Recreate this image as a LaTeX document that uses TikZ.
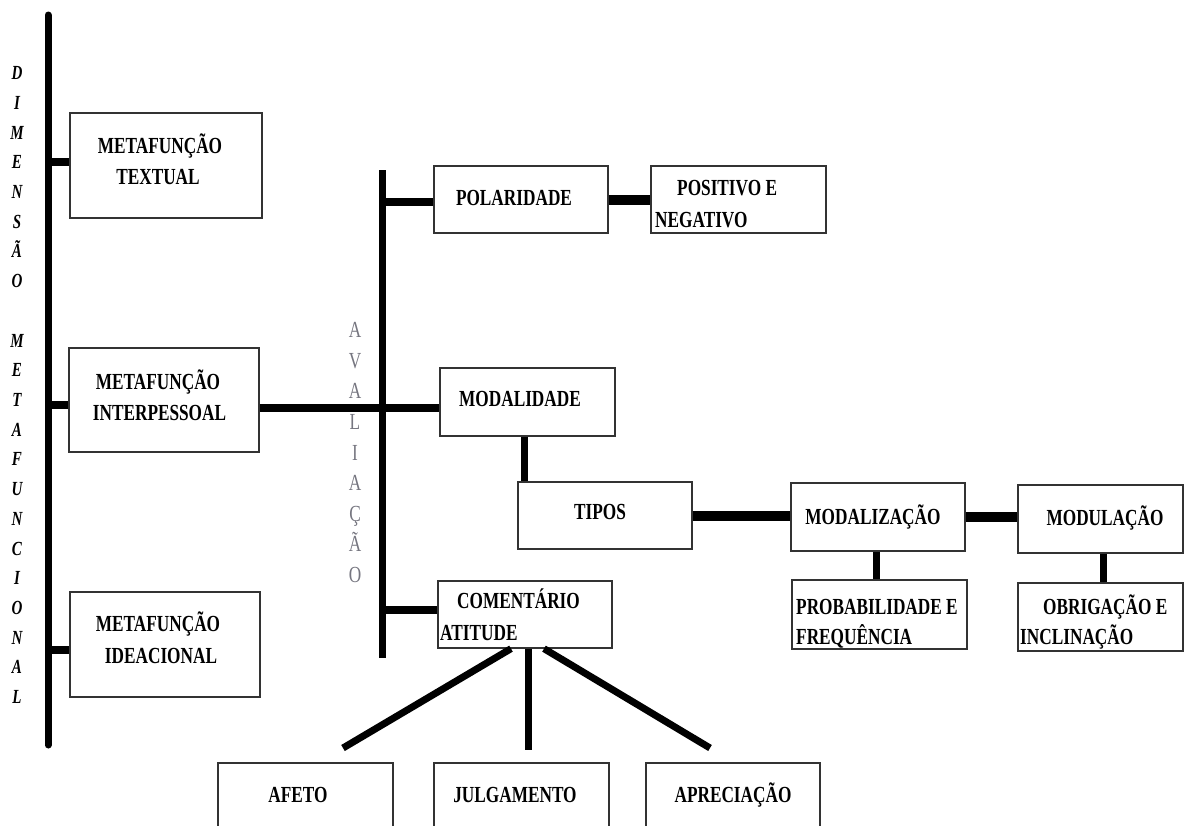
\documentclass[tikz,border=0pt]{standalone}
\usepackage{fontspec}
\setmainfont{Liberation Serif}[FakeStretch=0.75]
\definecolor{avgray}{RGB}{118,118,128}
\begin{document}
\begin{tikzpicture}[x=1pt,y=-1pt,
  box/.style={draw=black!80, line width=1.3pt, rectangle, inner sep=0pt},
  txt/.style={inner sep=0pt, font=\bfseries\fontsize{23}{31}\selectfont},
  spine/.style={line width=7pt, line cap=round},
  tick/.style={line width=8pt},
  link/.style={line width=10pt},
  vlink/.style={line width=7pt},
  diag/.style={line width=7pt}]
\useasboundingbox (0,0) rectangle (1185,825);
\clip (0,0) rectangle (1185,825);

% boxes
\node[box, minimum width=192, minimum height=105] (tex) at (166,165.5) {};
\node[box, minimum width=190, minimum height=104] (int) at (164,400) {};
\node[box, minimum width=190, minimum height=105] (ide) at (165,644.5) {};
\node[box, minimum width=174, minimum height=67] (pol) at (521,199.5) {};
\node[box, minimum width=175, minimum height=67] (pos) at (738.5,199.5) {};
\node[box, minimum width=175, minimum height=68] (mod) at (527.5,402) {};
\node[box, minimum width=174, minimum height=67] (tip) at (605,515.5) {};
\node[box, minimum width=174, minimum height=67] (com) at (525,614.5) {};
\node[box, minimum width=174, minimum height=68] (mz) at (878,517) {};
\node[box, minimum width=165, minimum height=68] (mu) at (1100.5,519) {};
\node[box, minimum width=175, minimum height=69] (pr) at (879.5,614.5) {};
\node[box, minimum width=165, minimum height=68] (ob) at (1100.5,617) {};
\node[box, minimum width=175, minimum height=107] (af) at (305.5,816.5) {};
\node[box, minimum width=175, minimum height=107] (ju) at (521.5,816.5) {};
\node[box, minimum width=174, minimum height=107] (ap) at (733,816.5) {};

% texts
\node[txt, anchor=base] (tex-a) at (160,153.5) {METAFUNÇÃO};
\node[txt, anchor=base] (tex-b) at (158,184.5) {TEXTUAL};
\node[txt, anchor=base] (int-a) at (158,389.5) {METAFUNÇÃO};
\node[txt, anchor=base] (int-b) at (159.5,420.5) {INTERPESSOAL};
\node[txt, anchor=base] (ide-a) at (158,631.5) {METAFUNÇÃO};
\node[txt, anchor=base] (ide-b) at (161,663) {IDEACIONAL};
\node[txt, anchor=base] (pol-t) at (514,205.5) {POLARIDADE};
\node[txt, anchor=base west] (pos-a) at (677,195.5) {POSITIVO E};
\node[txt, anchor=base west] (pos-b) at (655,227.5) {NEGATIVO};
\node[txt, anchor=base] (mod-t) at (520,406.5) {MODALIDADE};
\node[txt, anchor=base] (tip-t) at (600,519.5) {TIPOS};
\node[txt, anchor=base west] (com-a) at (457,608.5) {COMENTÁRIO};
\node[txt, anchor=base west] (com-b) at (440,640.5) {ATITUDE};
\node[txt, anchor=base] (mz-t) at (873,524.5) {MODALIZAÇÃO};
\node[txt, anchor=base] (mu-t) at (1105,525.5) {MODULAÇÃO};
\node[txt, anchor=base west] (pr-a) at (796,614.5) {PROBABILIDADE E};
\node[txt, anchor=base west] (pr-b) at (796,644.5) {FREQUÊNCIA};
\node[txt, anchor=base west] (ob-a) at (1043,614.5) {OBRIGAÇÃO E};
\node[txt, anchor=base west] (ob-b) at (1020,644.5) {INCLINAÇÃO};
\node[txt, anchor=base] (af-t) at (298,802.5) {AFETO};
\node[txt, anchor=base] (ju-t) at (515,802.5) {JULGAMENTO};
\node[txt, anchor=base] (ap-t) at (733,802.5) {APRECIAÇÃO};

% vertical labels
\node[inner sep=0pt, anchor=north, align=center,
      font=\bfseries\itshape\fontsize{20}{29.71}\selectfont] (dim) at (17,66.4)
  {D\\I\\M\\E\\N\\S\\Ã\\O\\\mbox{}\\M\\E\\T\\A\\F\\U\\N\\C\\I\\O\\N\\A\\L};
\node[inner sep=0pt, anchor=north, align=center, text=avgray,
      font=\fontsize{23}{30.6}\selectfont] (av) at (355,322.4)
  {A\\V\\A\\L\\I\\A\\Ç\\Ã\\O};

% left spine
\coordinate (dtop) at (48,15);
\coordinate (dbot) at (48,745);
\draw[spine] (dtop) -- (dbot);
\draw[tick] ([yshift=3.5pt]tex.west) coordinate (t1) -- (t1 -| dtop);
\draw[tick] ([yshift=-5pt]int.west) coordinate (t2) -- (t2 -| dtop);
\draw[tick] ([yshift=-5.5pt]ide.west) coordinate (t3) -- (t3 -| dtop);

% avaliacao spine
\coordinate (atop) at (382,170);
\coordinate (abot) at (382,658);
\draw[line width=7pt] (atop) -- (abot);
\draw[tick] ([yshift=-8pt]int.east) coordinate (i1) -- (i1 -| mod.west);
\draw[tick] ([yshift=-2.5pt]pol.west) coordinate (p1) -- (p1 -| atop);
\draw[tick] ([yshift=4.5pt]com.west) coordinate (c1) -- (c1 -| atop);

% right side
\draw[link] (pol.east) -- (pos.west);
\draw[vlink] ([xshift=-3.5pt]mod.south) coordinate (m1) -- (m1 |- tip.north);
\draw[link] (tip.east) -- (tip.east -| mz.west);
\draw[link] (mz.east) -- (mz.east -| mu.west);
\draw[vlink] ([xshift=-2pt]mz.south) coordinate (z1) -- (z1 |- pr.north);
\draw[vlink] ([xshift=2.5pt]mu.south) coordinate (u1) -- (u1 |- ob.north);

% bottom branches
\coordinate (e1) at (343,748);
\coordinate (e2) at (528,750);
\coordinate (e3) at (710,748);
\draw[diag] ([xshift=-14pt]com.south) -- (e1);
\draw[diag] ([xshift=3pt]com.south) -- (e2);
\draw[diag] ([xshift=19pt]com.south) -- (e3);
\end{tikzpicture}
\end{document}
